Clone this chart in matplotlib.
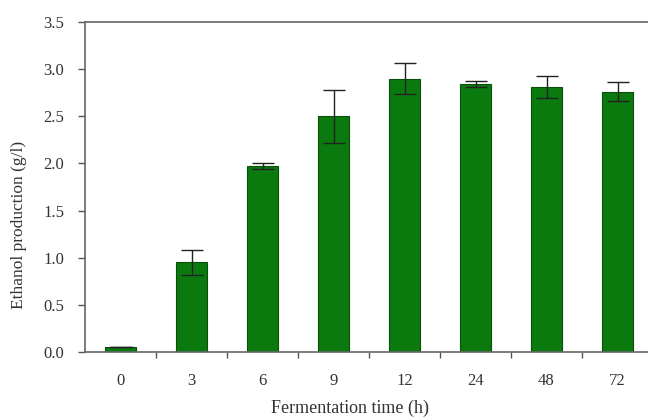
import numpy as np
import matplotlib
matplotlib.use('Agg')
import matplotlib.pyplot as plt

# ethanol yield over fermentation time
times = ['0', '3', '6', '9', '12', '24', '48', '72']
ethanol = [0.05, 0.95, 1.97, 2.50, 2.90, 2.84, 2.81, 2.76]
ethanol_err = [0.0, 0.13, 0.03, 0.28, 0.16, 0.03, 0.12, 0.10]

plt.rcParams['font.family'] = ['Liberation Serif', 'DejaVu Serif']

fig = plt.figure(figsize=(6.48, 4.18), dpi=100)
ax = fig.add_axes([85/648, 1 - 352/418, 568/648, 330/418])

x = np.arange(len(times))
ax.bar(x, ethanol, width=0.43, color='#0a7a0e', edgecolor='#0b4d0b', linewidth=0.8,
       yerr=ethanol_err, error_kw=dict(ecolor='#222222', elinewidth=1.0, capsize=8, capthick=1.0))

ax.set_xlim(-0.5, len(times) - 0.5)
ax.set_ylim(0, 3.5)
ax.set_yticks(np.arange(0, 3.51, 0.5))
ax.set_yticklabels(['%.1f' % v for v in np.arange(0, 3.51, 0.5)])

# category labels centred on bars, tick marks between categories
ax.set_xticks(x + 0.5, minor=False)
ax.set_xticklabels([])
ax.set_xticks(x, minor=True)
ax.set_xticklabels(times, minor=True)
ax.tick_params(axis='x', which='minor', length=0, pad=15, labelsize=12, labelcolor='#333333')
ax.tick_params(axis='x', which='major', direction='out', length=4, width=1, color='#555555')
ax.tick_params(axis='y', direction='out', length=5, width=1, color='#555555', pad=10,
               labelsize=12, labelcolor='#333333')

for s in ['left', 'bottom', 'top', 'right']:
    ax.spines[s].set_color('#666666')
    ax.spines[s].set_linewidth(1.2)

ax.set_xlabel('Fermentation time (h)', fontsize=13, color='#333333')
ax.set_ylabel('Ethanol production (g/l)', fontsize=12.5, color='#333333')
ax.xaxis.set_label_coords(0.467, -0.145)
ax.yaxis.set_label_coords(-0.102, 0.385)

fig.savefig('out.png', dpi=100)
plt.close()
